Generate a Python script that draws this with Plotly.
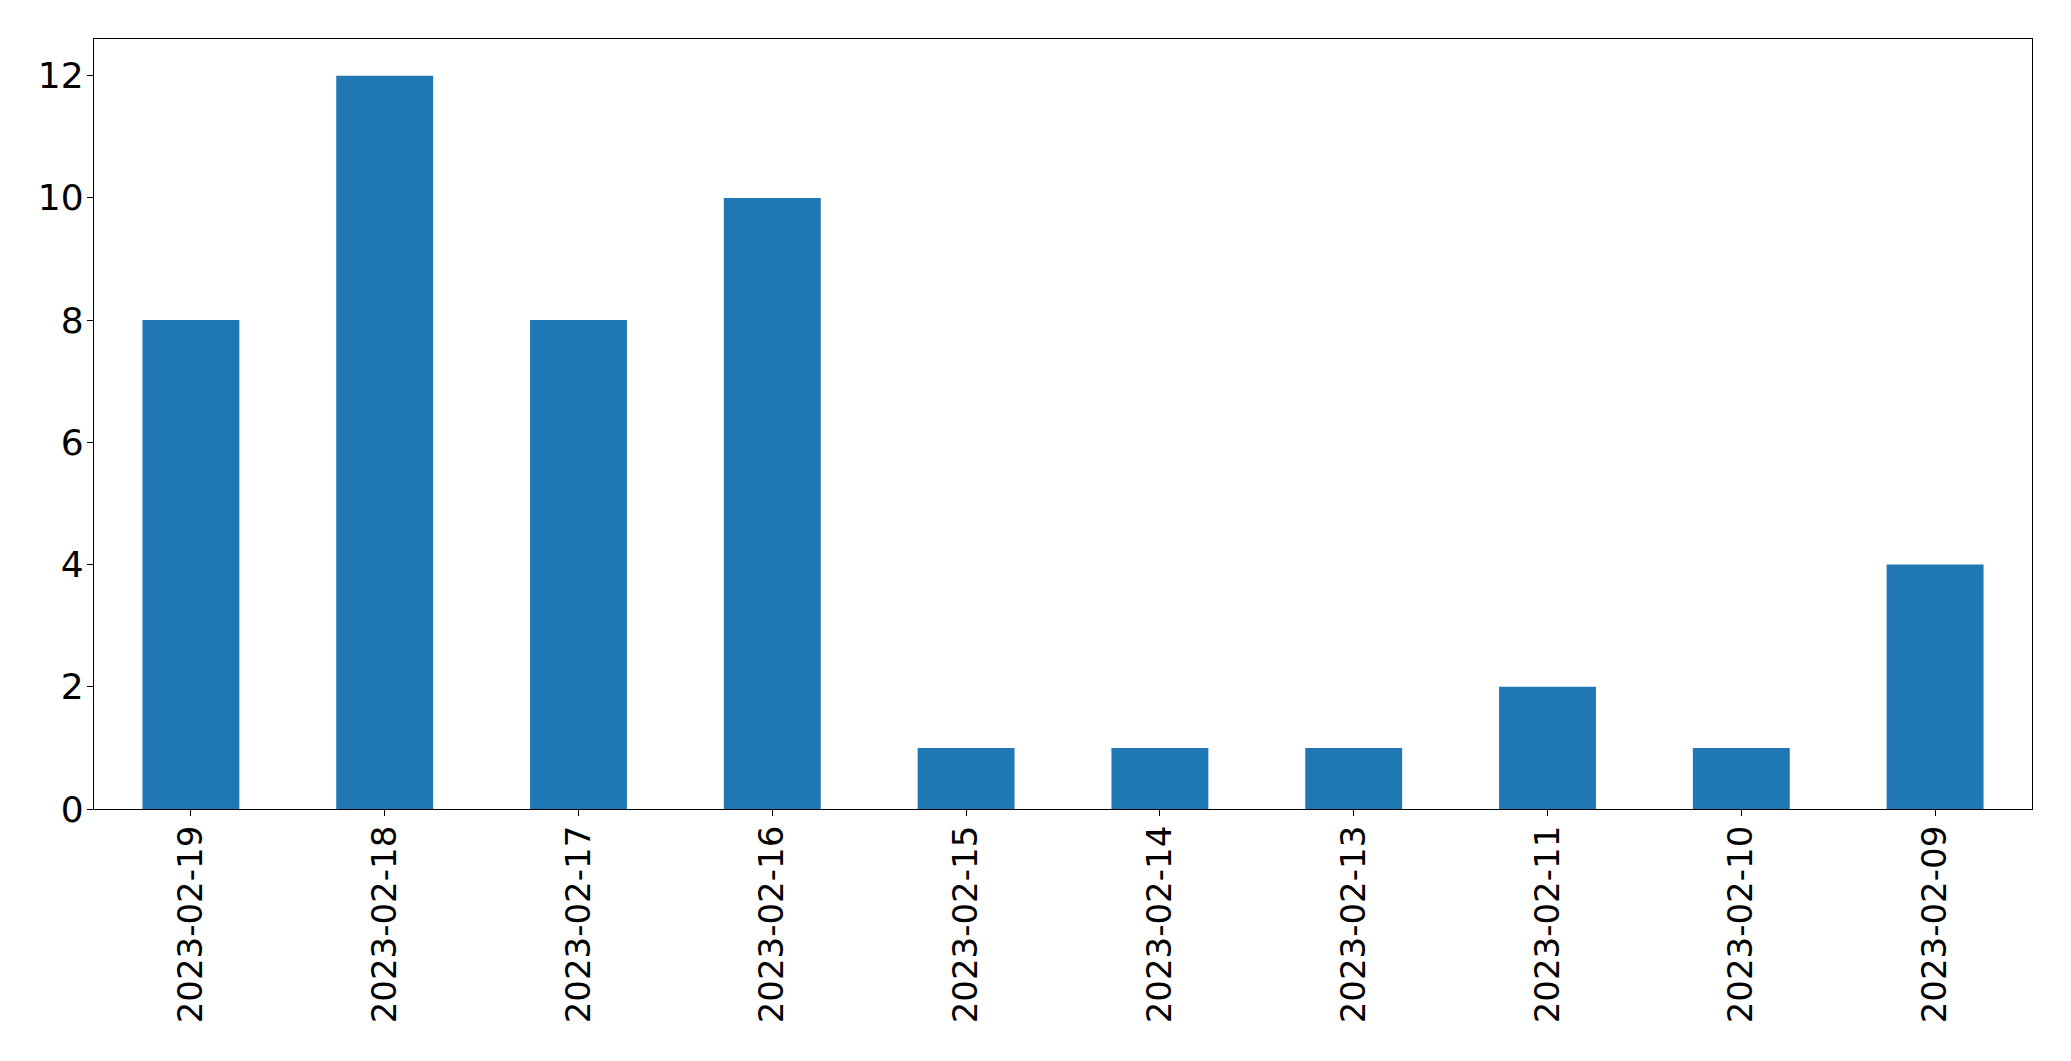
import plotly.graph_objects as go

dates = ["2023-02-19", "2023-02-18", "2023-02-17", "2023-02-16", "2023-02-15",
         "2023-02-14", "2023-02-13", "2023-02-11", "2023-02-10", "2023-02-09"]
counts = [8, 12, 8, 10, 1, 1, 1, 2, 1, 4]
y_ticks = [0, 2, 4, 6, 8, 10, 12]

fig = go.Figure(go.Bar(x=dates, y=counts, width=0.5, marker_color="#1f77b4",
                       marker_line_width=0))

axis_common = dict(showline=True, linecolor="black", linewidth=1.3, mirror=True,
                   ticks="outside", ticklen=6, tickwidth=1.3, tickcolor="black",
                   showgrid=False, zeroline=False)

fig.update_layout(
    width=2071, height=1061,
    margin=dict(l=86, r=47, t=31, b=260, autoexpand=False),
    paper_bgcolor="white", plot_bgcolor="white",
    showlegend=False,
    xaxis=dict(type="category", range=[-0.5, 9.5], tickangle=-90,
               ticklabelstandoff=-4,
               tickfont=dict(family="DejaVu Sans", size=34, color="black"),
               **axis_common),
    yaxis=dict(range=[0, 12.6], tickvals=y_ticks, ticklabelstandoff=-4,
               tickfont=dict(family="DejaVu Sans", size=36, color="black"),
               **axis_common),
)

fig.write_html("out.html")
